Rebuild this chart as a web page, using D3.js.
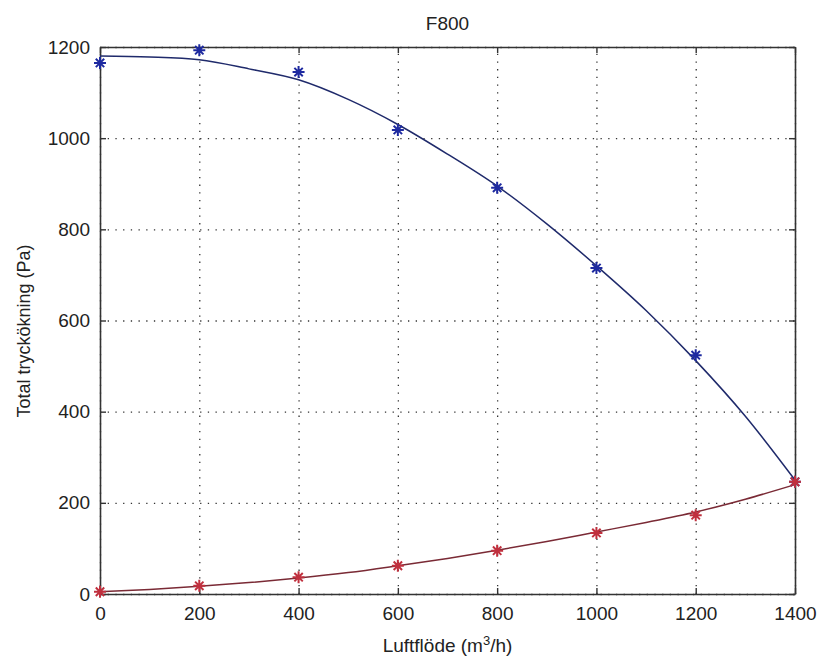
<!DOCTYPE html>
<html>
<head>
<meta charset="utf-8">
<script src="https://cdn.jsdelivr.net/npm/d3@7"></script>
<style>
  body { margin: 0; background: #fff; }
  text { font-family: "Liberation Sans", Arial, sans-serif; fill: #222; }
</style>
</head>
<body>
<div id="chartDiv"></div>
<script>
// measured points
var flowPts = [0, 200, 400, 600, 800, 1000, 1200, 1400];
var pressureMeas = [1165, 1193, 1145, 1018, 891, 715, 524, 246];
var lossMeas = [5, 18, 37, 62, 95, 134, 173, 246];

// fitted curves
var fitFlow = [0, 100, 200, 300, 400, 500, 600, 700, 800, 900, 1000, 1100, 1200, 1300, 1400];
var pressureFit = [1180, 1178, 1172, 1152, 1128, 1085, 1030, 965, 895, 812, 720, 622, 512, 390, 250];
var lossFit = [5, 10, 17, 25, 35, 47, 62, 78, 96, 115, 136, 157, 180, 208, 240];

var xTicks = [0, 200, 400, 600, 800, 1000, 1200, 1400];
var yTicks = [0, 200, 400, 600, 800, 1000, 1200];

var W = 822, H = 661;
var margin = { top: 47, right: 27, bottom: 67, left: 100 },
    width = W - margin.left - margin.right,
    height = H - margin.top - margin.bottom;

var svg = d3.select("#chartDiv").append("svg")
    .attr("width", W)
    .attr("height", H);

var g = svg.append("g")
    .attr("transform", "translate(" + margin.left + "," + margin.top + ")");

var x = d3.scaleLinear().domain([0, 1400]).range([0, width]);
var y = d3.scaleLinear().domain([0, 1200]).range([height, 0]);
var fmt = d3.format("d");

// grid
g.append("g")
    .attr("class", "grid")
    .attr("transform", "translate(0," + height + ")")
    .call(d3.axisBottom(x).tickValues(xTicks).tickSize(-height).tickFormat(""));
g.append("g")
    .attr("class", "grid")
    .call(d3.axisLeft(y).tickValues(yTicks).tickSize(-width).tickFormat(""));
g.selectAll(".grid .domain").remove();
g.selectAll(".grid line")
    .attr("stroke", "#333")
    .attr("stroke-width", 1.3)
    .attr("stroke-dasharray", "1.3,6.4");

// axes, ticks pointing inward
var xAxis = g.append("g")
    .attr("transform", "translate(0," + height + ")")
    .call(d3.axisBottom(x).tickValues(xTicks).tickFormat(fmt).tickSizeInner(-6).tickSizeOuter(0).tickPadding(13));
var yAxis = g.append("g")
    .call(d3.axisLeft(y).tickValues(yTicks).tickFormat(fmt).tickSizeInner(-6).tickSizeOuter(0).tickPadding(10));
var xTop = g.append("g")
    .call(d3.axisTop(x).tickValues(xTicks).tickSizeInner(-6).tickSizeOuter(0).tickFormat(""));
var yRight = g.append("g")
    .attr("transform", "translate(" + width + ",0)")
    .call(d3.axisRight(y).tickValues(yTicks).tickSizeInner(-6).tickSizeOuter(0).tickFormat(""));

[xAxis, yAxis, xTop, yRight].forEach(function (a) {
    a.select(".domain").attr("stroke", "#333").attr("stroke-width", 1.6);
    a.selectAll(".tick line").attr("stroke", "#333").attr("stroke-width", 1.4);
    a.selectAll("text").style("font-size", "19px").attr("fill", "#222");
});

// curves
var line = d3.line()
    .x(function (d) { return x(d[0]); })
    .y(function (d) { return y(d[1]); })
    .curve(d3.curveMonotoneX);

g.append("path")
    .datum(d3.zip(fitFlow, pressureFit))
    .attr("d", line)
    .attr("fill", "none")
    .attr("stroke", "#1f2a6b")
    .attr("stroke-width", 1.5);

g.append("path")
    .datum(d3.zip(fitFlow, lossFit))
    .attr("d", line)
    .attr("fill", "none")
    .attr("stroke", "#7a2a35")
    .attr("stroke-width", 1.5);

// asterisk markers
function star(s) {
    var d = s * 0.7;
    return "M" + (-s) + ",0L" + s + ",0M0," + (-s) + "L0," + s +
        "M" + (-d) + "," + (-d) + "L" + d + "," + d +
        "M" + (-d) + "," + d + "L" + d + "," + (-d);
}

g.selectAll(".pm")
    .data(d3.zip(flowPts, pressureMeas))
    .enter().append("path")
    .attr("class", "pm")
    .attr("transform", function (d) { return "translate(" + x(d[0]) + "," + y(d[1]) + ")"; })
    .attr("d", star(6))
    .attr("fill", "none")
    .attr("stroke", "#1e2aa0")
    .attr("stroke-width", 2);

g.selectAll(".lm")
    .data(d3.zip(flowPts, lossMeas))
    .enter().append("path")
    .attr("class", "lm")
    .attr("transform", function (d) { return "translate(" + x(d[0]) + "," + y(d[1]) + ")"; })
    .attr("d", star(6))
    .attr("fill", "none")
    .attr("stroke", "#c0303e")
    .attr("stroke-width", 2);

// texts
svg.append("text")
    .attr("x", margin.left + width / 2)
    .attr("y", 30)
    .attr("text-anchor", "middle")
    .style("font-size", "19px")
    .text("F800");

var xl = svg.append("text")
    .attr("x", margin.left + width / 2)
    .attr("y", 652)
    .attr("text-anchor", "middle")
    .style("font-size", "19px");
xl.append("tspan").text("Luftflöde (m");
xl.append("tspan").attr("dy", -7).style("font-size", "13px").text("3");
xl.append("tspan").attr("dy", 7).text("/h)");

svg.append("text")
    .attr("transform", "translate(30," + 331 + ") rotate(-90)")
    .attr("text-anchor", "middle")
    .style("font-size", "18px")
    .text("Total tryckökning (Pa)");
</script>
</body>
</html>
